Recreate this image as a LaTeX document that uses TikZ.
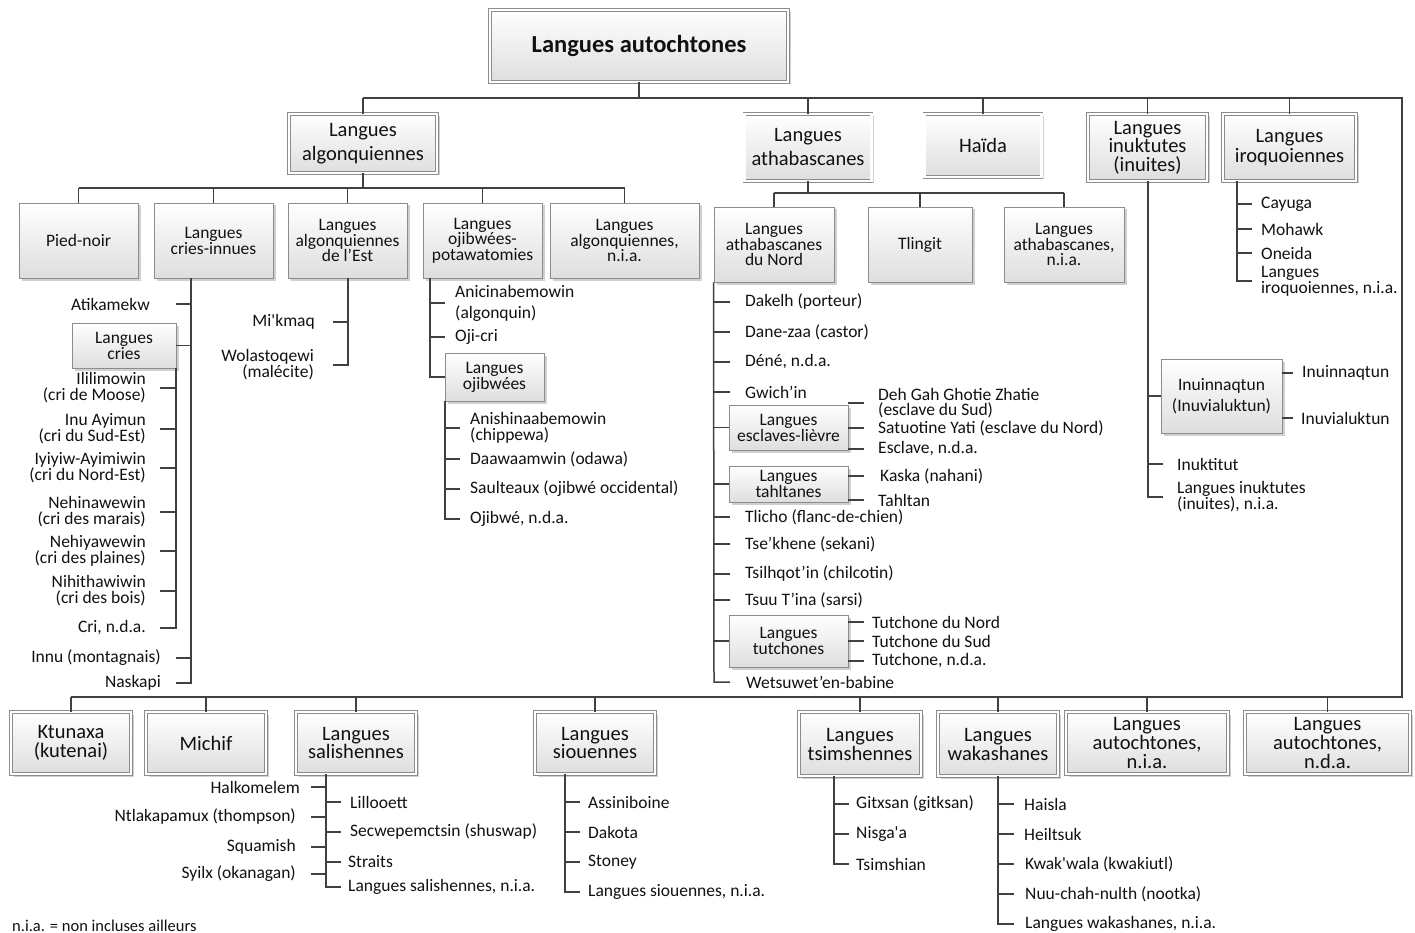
\documentclass[tikz,border=0pt]{standalone}
\usepackage{fontspec}
\setmainfont{Carlito}
\usetikzlibrary{shadows}
\definecolor{linec}{HTML}{404040}
\definecolor{boxc}{HTML}{8C8C8C}
\definecolor{shadec}{HTML}{DEDEDE}
\definecolor{txtc}{HTML}{111111}
\newcommand\FntTitle{\fontsize{24.5}{26}\selectfont\bfseries}
\newcommand\FntBig{\fontsize{20.5}{24}\selectfont}
\newcommand\FntMid{\fontsize{17.5}{16}\selectfont}
\newcommand\FntLeaf{\fontsize{17.5}{16}\selectfont}
\tikzset{
  conn/.style={draw=linec, line width=1.5pt},
  box/.style={draw=boxc, line width=0.9pt, top color=white, bottom color=shadec,
     drop shadow={shadow xshift=2.5pt, shadow yshift=-2.5pt, opacity=0.3, fill=black!60},
     align=center, inner sep=0pt, text=txtc, font=\FntMid},
  dbox/.style={box, double=white, double distance=2.2pt, line width=0.8pt, font=\FntBig},
  leafr/.style={anchor=east, align=right, inner sep=0pt, text=txtc, font=\FntLeaf},
  leafl/.style={anchor=west, align=left, inner sep=0pt, text=txtc, font=\FntLeaf},
}
\begin{document}
\begin{tikzpicture}[x=1pt,y=-1pt]
\useasboundingbox (0,0) rectangle (1415,933);
\fill[white] (0,0) rectangle (1415,933);

% ---------- root and top level ----------
\node[dbox, minimum width=298pt, minimum height=72pt, font=\FntTitle] (root) at (639,46) {Langues autochtones};
\node[dbox, minimum width=148pt, minimum height=59pt, font=\fontsize{20.5}{24}\selectfont] (alg) at (363,143.5) {Langues\\algonquiennes};
\node[dbox, minimum width=127pt, minimum height=67pt, font=\fontsize{20.5}{24}\selectfont] (ath) at (808,147.5) {Langues\\athabascanes};
\node[dbox, minimum width=117pt, minimum height=63pt] (hai) at (983,145.5) {Haïda};
\node[dbox, minimum width=119pt, minimum height=67pt, font=\fontsize{20.5}{18.5}\selectfont] (inu) at (1147.5,147.5) {Langues\\inuktutes\\(inuites)};
\node[dbox, minimum width=133pt, minimum height=67pt, font=\fontsize{20.5}{19.5}\selectfont] (iro) at (1289.5,147.5) {Langues\\iroquoiennes};

% ---------- bottom row ----------
\node[dbox, minimum width=120pt, minimum height=62pt, font=\fontsize{20.5}{18.5}\selectfont] (ktu) at (71,743) {Ktunaxa\\(kutenai)};
\node[dbox, minimum width=120pt, minimum height=62pt] (mic) at (206,743) {Michif};
\node[dbox, minimum width=120pt, minimum height=62pt, font=\fontsize{20.5}{18.5}\selectfont] (sal) at (356,743) {Langues\\salishennes};
\node[dbox, minimum width=120pt, minimum height=62pt, font=\fontsize{20.5}{18.5}\selectfont] (sio) at (595,743) {Langues\\siouennes};
\node[dbox, minimum width=122pt, minimum height=64pt, font=\fontsize{20.5}{19}\selectfont] (tsi) at (860,744) {Langues\\tsimshennes};
\node[dbox, minimum width=120pt, minimum height=64pt, font=\fontsize{20.5}{19}\selectfont] (wak) at (998,744) {Langues\\wakashanes};
\node[dbox, minimum width=162pt, minimum height=62pt, font=\fontsize{20.5}{19}\selectfont] (lni) at (1147,743) {Langues\\autochtones,\\n.i.a.};
\node[dbox, minimum width=165pt, minimum height=62pt, font=\fontsize{20.5}{19}\selectfont] (lnd) at (1327.5,743) {Langues\\autochtones,\\n.d.a.};

\coordinate (by1) at (0,98);
\coordinate (rc) at (1402,98);
\coordinate (rb) at (1402,697);
\draw[conn] (root.south) -- (root.south |- by1);
\draw[conn] (alg.north |- by1) -- (rc) -- (rb) -- (ktu.north |- rb);
\foreach \n in {alg,ath,hai,inu,iro} \draw[conn] (\n.north |- by1) -- (\n.north);
\draw[conn] (ktu.north |- rb) -- (ktu.north);
\draw[conn] (mic.north |- rb) -- (mic.north);
\draw[conn] (sal.north |- rb) -- (sal.north);
\foreach \n in {sio,tsi,wak,lni,lnd} \draw[conn] (\n.north |- rb) -- (\n.north);

% ---------- algonquiennes ----------
\node[box, minimum width=119pt, minimum height=75pt] (pn) at (78.5,240.5) {Pied-noir};
\node[box, minimum width=119pt, minimum height=75pt] (ci) at (213.5,240.5) {Langues\\cries-innues};
\node[box, minimum width=119pt, minimum height=75pt, font=\fontsize{17.5}{15.5}\selectfont] (ae) at (347.5,240.5) {Langues\\algonquiennes\\de l’Est};
\node[box, minimum width=119pt, minimum height=75pt, font=\fontsize{17.5}{15.5}\selectfont] (op) at (482.5,240.5) {Langues\\ojibwées-\\potawatomies};
\node[box, minimum width=149pt, minimum height=75pt, font=\fontsize{17.5}{15.5}\selectfont] (ani) at (624.5,240.5) {Langues\\algonquiennes,\\n.i.a.};
\coordinate (by2) at (0,188);
\draw[conn] (alg.south) -- (alg.south |- by2);
\draw[conn] (pn.north |- by2) -- (ani.north |- by2);
\foreach \n in {pn,ci,ae,op,ani} \draw[conn] (\n.north |- by2) -- (\n.north);

% cries-innues
\coordinate (bci) at (191,0);
\node[leafr] (atk) at (150,304) {Atikamekw};
\node[box, minimum width=104pt, minimum height=45pt] (lc) at (124,345.5) {Langues\\cries};
\node[leafr] (c1) at (146,388) {Ililimowin\\(cri de Moose)};
\node[leafr] (c2) at (146,429) {Inu Ayimun\\(cri du Sud-Est)};
\node[leafr] (c3) at (146,468) {Iyiyiw-Ayimiwin\\(cri du Nord-Est)};
\node[leafr] (c4) at (146,512) {Nehinawewin\\(cri des marais)};
\node[leafr] (c5) at (146,551) {Nehiyawewin\\(cri des plaines)};
\node[leafr] (c6) at (146,591) {Nihithawiwin\\(cri des bois)};
\node[leafr] (c7) at (146,628) {Cri, n.d.a.};
\node[leafr] (inn) at (161,658) {Innu (montagnais)};
\node[leafr] (nas) at (161,683) {Naskapi};
\draw[conn] (ci.south -| bci) -- (nas.east -| bci) -- ++(-15,0);
\foreach \n in {atk,inn} \draw[conn] (\n.east -| bci) -- ++(-15,0);
\draw[conn] (lc.east) -- (lc.east -| bci);
\coordinate (blc) at (176,0);
\draw[conn] (lc.south -| blc) -- (c7.east -| blc) -- ++(-16,0);
\foreach \n in {c1,c2,c3,c4,c5,c6} \draw[conn] (\n.east -| blc) -- ++(-16,0);

% algonquiennes de l'Est
\coordinate (bae) at (348,0);
\node[leafr] (mik) at (315,322) {Mi\textquotesingle kmaq};
\node[leafr] (wol) at (314,365) {Wolastoqewi\\(malécite)};
\draw[conn] (ae.south -| bae) -- (wol.east -| bae) -- ++(-15,0);
\draw[conn] (mik.east -| bae) -- ++(-15,0);

% ojibwees-potawatomies
\coordinate (bop) at (430,0);
\node[leafl, font=\fontsize{17.5}{21}\selectfont] (anc) at (455,303) {Anicinabemowin\\(algonquin)};
\node[leafl] (ojc) at (455,337) {Oji-cri};
\node[box, minimum width=99pt, minimum height=48pt] (lo) at (494.5,377) {Langues\\ojibwées};
\draw[conn] (op.south -| bop) |- (lo.west);
\foreach \n in {anc,ojc} \draw[conn] (\n.west -| bop) -- ++(15,0);
\coordinate (blo) at (445,0);
\node[leafl] (o1) at (470,428) {Anishinaabemowin\\(chippewa)};
\node[leafl] (o2) at (470,459) {Daawaamwin (odawa)};
\node[leafl] (o3) at (470,489) {Saulteaux (ojibwé occidental)};
\node[leafl] (o4) at (470,519) {Ojibwé, n.d.a.};
\draw[conn] (lo.south -| blo) -- (o4.west -| blo) -- ++(15,0);
\foreach \n in {o1,o2,o3} \draw[conn] (\n.west -| blo) -- ++(15,0);

% ---------- athabascanes ----------
\node[box, minimum width=120pt, minimum height=75pt, font=\fontsize{17.5}{15.5}\selectfont] (an) at (774,244.5) {Langues\\athabascanes\\du Nord};
\node[box, minimum width=104pt, minimum height=75pt] (tl) at (920,244.5) {Tlingit};
\node[box, minimum width=120pt, minimum height=75pt, font=\fontsize{17.5}{15.5}\selectfont] (aa) at (1064,244.5) {Langues\\athabascanes,\\n.i.a.};
\coordinate (by3) at (0,193);
\draw[conn] (ath.south) -- (ath.south |- by3);
\draw[conn] (an.north |- by3) -- (aa.north |- by3);
\foreach \n in {an,tl,aa} \draw[conn] (\n.north |- by3) -- (\n.north);

\coordinate (ban) at (714,0);
\node[leafl] (d1) at (745,302) {Dakelh (porteur)};
\node[leafl] (d2) at (745,332) {Dane-zaa (castor)};
\node[leafl] (d3) at (745,362) {Déné, n.d.a.};
\node[leafl] (d4) at (745,392) {Gwich’in};
\node[box, minimum width=119pt, minimum height=45pt] (lev) at (788.5,427.5) {Langues\\esclaves-lièvre};
\node[box, minimum width=119pt, minimum height=36pt, font=\fontsize{17.5}{14}\selectfont] (lta) at (788.5,484) {Langues\\tahltanes};
\node[leafl] (d5) at (745,517) {Tlicho (flanc-de-chien)};
\node[leafl] (d6) at (745,544) {Tse’khene (sekani)};
\node[leafl] (d7) at (745,574) {Tsilhqot’in (chilcotin)};
\node[leafl] (d8) at (745,600) {Tsuu T’ina (sarsi)};
\node[box, minimum width=119pt, minimum height=52pt] (ltu) at (788.5,641) {Langues\\tutchones};
\node[leafl] (d9) at (746,682) {Wetsuwet’en-babine};
\draw[conn] (an.south west) -- (d9.west -| ban) -- ++(16,0);
\foreach \n in {d1,d2,d3,d4,d5,d6,d7,d8} \draw[conn] (\n.west -| ban) -- ++(16,0);
\foreach \n in {lev,lta,ltu} \draw[conn] (\n.west) -- (\n.west -| ban);
% esclaves-lievre
\node[leafl, font=\fontsize{17.5}{15}\selectfont] (e1) at (878,403) {Deh Gah Ghotie Zhatie\\(esclave du Sud)};
\node[leafl] (e2) at (878,428) {Satuotine Yati (esclave du Nord)};
\node[leafl] (e3) at (878,449) {Esclave, n.d.a.};
\foreach \n in {e1,e2,e3} \draw[conn] (\n.west -| lev.east) -- ++(16,0);
% tahltanes
\node[leafl] (t1) at (880,476) {Kaska (nahani)};
\node[leafl] (t2) at (878,500) {Tahltan};
\foreach \n in {t1,t2} \draw[conn] (\n.west -| lta.east) -- ++(16,0);
% tutchones
\node[leafl] (u1) at (872,622) {Tutchone du Nord};
\node[leafl] (u2) at (872,641) {Tutchone du Sud};
\node[leafl] (u3) at (872,661) {Tutchone, n.d.a.};
\foreach \n in {u1,u2,u3} \draw[conn] (\n.west -| ltu.east) -- ++(16,0);

% ---------- inuktutes ----------
\coordinate (bin) at (1148,0);
\node[box, minimum width=121pt, minimum height=74pt, font=\fontsize{17.5}{21}\selectfont] (iq) at (1221.5,396) {Inuinnaqtun\\(Inuvialuktun)};
\node[leafl] (q1) at (1302,373) {Inuinnaqtun};
\node[leafl] (q2) at (1301,418) {Inuvialuktun};
\foreach \n in {q1,q2} \draw[conn] (\n.west -| iq.east) -- ++(11,0);
\node[leafl] (k1) at (1177,464) {Inuktitut};
\node[leafl] (k2) at (1177,497) {Langues inuktutes\\(inuites), n.i.a.};
\draw[conn] (inu.south -| bin) -- (k2.west -| bin) -- ++(15,0);
\draw[conn] (k1.west -| bin) -- ++(15,0);
\draw[conn] (iq.west) -- (iq.west -| bin);

% ---------- iroquoiennes ----------
\coordinate (bir) at (1237,0);
\node[leafl] (r1) at (1261,204) {Cayuga};
\node[leafl] (r2) at (1261,229) {Mohawk};
\node[leafl] (r3) at (1261,253) {Oneida};
\node[leafl, font=\fontsize{17.5}{13.5}\selectfont] (r4) at (1261,281) {Langues\\iroquoiennes, n.i.a.};
\draw[conn] (iro.south -| bir) -- (r4.west -| bir) -- ++(15,0);
\foreach \n in {r1,r2,r3} \draw[conn] (\n.west -| bir) -- ++(15,0);

% ---------- salishennes ----------
\coordinate (bsa) at (326,0);
\node[leafr] (s1) at (300,787) {Halkomelem};
\node[leafr] (s2) at (296,817) {Ntlakapamux (thompson)};
\node[leafr] (s3) at (296,847) {Squamish};
\node[leafr] (s4) at (296,874) {Syilx (okanagan)};
\node[leafl] (s5) at (350,802) {Lillooett};
\node[leafl] (s6) at (350,832) {Secwepemctsin (shuswap)};
\node[leafl] (s7) at (348,862) {Straits};
\node[leafl] (s8) at (348,887) {Langues salishennes, n.i.a.};
\draw[conn] (sal.south -| bsa) -- (s8.west -| bsa) -- ++(15,0);
\foreach \n in {s1,s2,s3,s4} \draw[conn] (\n.east -| bsa) -- ++(-15,0);
\foreach \n in {s5,s6,s7} \draw[conn] (\n.west -| bsa) -- ++(15,0);

% ---------- siouennes ----------
\coordinate (bsi) at (565,0);
\node[leafl] (i1) at (588,802) {Assiniboine};
\node[leafl] (i2) at (588,832) {Dakota};
\node[leafl] (i3) at (588,862) {Stoney};
\node[leafl] (i4) at (588,892) {Langues siouennes, n.i.a.};
\draw[conn] (sio.south -| bsi) -- (i4.west -| bsi) -- ++(15,0);
\foreach \n in {i1,i2,i3} \draw[conn] (\n.west -| bsi) -- ++(15,0);

% ---------- tsimshennes ----------
\coordinate (bts) at (834,0);
\node[leafl] (m1) at (856,804) {Gitxsan (gitksan)};
\node[leafl] (m2) at (856,834) {Nisga\textquotesingle a};
\node[leafl] (m3) at (856,864) {Tsimshian};
\draw[conn] (tsi.south -| bts) -- (m3.west -| bts) -- ++(15,0);
\foreach \n in {m1,m2} \draw[conn] (\n.west -| bts) -- ++(15,0);

% ---------- wakashanes ----------
\coordinate (bwa) at (998,0);
\node[leafl] (w1) at (1024,804) {Haisla};
\node[leafl] (w2) at (1024,834) {Heiltsuk};
\node[leafl] (w3) at (1025,864) {Kwak\textquotesingle wala (kwakiutl)};
\node[leafl] (w4) at (1025,894) {Nuu-chah-nulth (nootka)};
\node[leafl] (w5) at (1025,924) {Langues wakashanes, n.i.a.};
\draw[conn] (wak.south) -- (w5.west -| bwa) -- ++(16,0);
\foreach \n in {w1,w2,w3,w4} \draw[conn] (\n.west -| bwa) -- ++(16,0);

% footnote
\node[leafl, font=\fontsize{16.5}{16}\selectfont] (fn) at (12,926) {n.i.a. = non incluses ailleurs};
\end{tikzpicture}
\end{document}
